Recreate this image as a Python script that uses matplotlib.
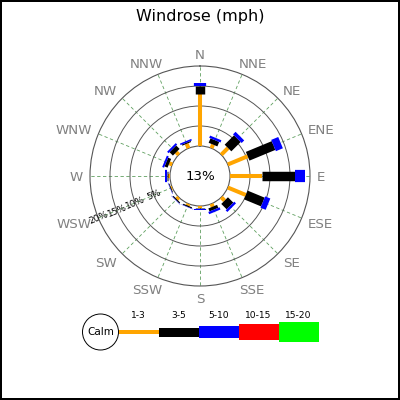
import numpy as np
import matplotlib
matplotlib.use("Agg")
import matplotlib.pyplot as plt
from matplotlib.patches import Circle, Rectangle
from matplotlib.transforms import offset_copy

directions = ['N', 'NNE', 'NE', 'ENE', 'E', 'ESE', 'SE', 'SSE',
              'S', 'SSW', 'SW', 'WSW', 'W', 'WNW', 'NW', 'NNW']
speed_1_3 = [13.0, 1.0, 2.4, 5.4, 7.9, 4.9, 1.2, 0.8, 0.5, 0.5, 0.7, 0.3, 0.5, 0.8, 0.9, 1.2]
speed_3_5 = [2.0, 1.2, 3.3, 7.0, 8.3, 4.6, 1.9, 0.8, 0.2, 0.3, 0.3, 0.2, 0.3, 0.8, 1.2, 0.3]
speed_5_10 = [0.8, 0.6, 0.9, 1.9, 2.5, 1.4, 0.6, 0.6, 0.4, 0.1, 0.1, 0.1, 0.4, 0.5, 0.5, 0.4]
calm_pct = 13
ring_ticks = [5, 10, 15, 20]
legend_labels = ['1-3', '3-5', '5-10', '10-15', '15-20']

colors = ['#FFA500', '#000000', '#0000FF', '#FF0000', '#00FF00']
line_widths = [2.9, 6.8, 8.8]
legend_heights = [4, 9, 12, 16.5, 20]

fig = plt.figure(figsize=(4, 4), dpi=100, facecolor='white',
                 edgecolor='black', linewidth=1.5)
renderer = fig.canvas.get_renderer()

# Title
fig.text(0.5, 1 - 17 / 400, 'Windrose (mph)', ha='center', va='center',
         fontsize=11.5, color='black')

# Polar rose
R = 110  # px radius of outer ring
cx, cy = 200, 176
ax = fig.add_axes([(cx - R) / 400, (400 - cy - R) / 400, 2 * R / 400, 2 * R / 400],
                  projection='polar')
ax.set_theta_zero_location('N')
ax.set_theta_direction(-1)
rmax = 20
rorigin = -7.5
ax.set_ylim(0, rmax)
ax.set_rorigin(rorigin)
ax.set_facecolor('white')

angles = np.deg2rad(np.arange(len(directions)) * 22.5)
ax.set_xticks(angles)
ax.set_xticklabels([])
ax.set_yticks(ring_ticks[:-1])
ax.set_yticklabels([])
ax.xaxis.grid(True, color='#5f9f5f', linestyle=(0, (4, 3)), linewidth=0.6)
ax.yaxis.grid(True, color='#555555', linestyle='-', linewidth=0.7)
ax.tick_params(length=0)
for name, sp in ax.spines.items():
    sp.set_color('#555555')
    sp.set_linewidth(0.8)

series = [speed_1_3, speed_3_5, speed_5_10]
for i, th in enumerate(angles):
    base = 0.0
    for k, (s, col, lw) in enumerate(zip(series, colors, line_widths)):
        top = base + s[i]
        ax.plot([th, th], [base, top], color=col, linewidth=lw,
                solid_capstyle='butt', zorder=3 + k)
        base = top

# Direction labels
px_per_unit = R / (rmax - rorigin)
r_lab = rorigin + 117 / px_per_unit
for th, d in zip(angles, directions):
    s = np.sin(th)
    t = ax.text(th, r_lab, d, ha='center', va='baseline', fontsize=9.6,
                color='#808080', clip_on=False)
    w_px = t.get_window_extent(renderer=renderer).width
    frac = np.sign(s) * min(1.0, abs(s) / 0.707) if abs(s) > 0.01 else 0.0
    dx_px = frac * w_px / 2
    dy_px = -5 * (1 - np.cos(th))
    t.set_transform(offset_copy(ax.transData, fig=fig, x=dx_px * 72 / 100,
                                y=dy_px * 72 / 100, units='points'))

# Percentage ring labels along WSW line
th_lab = np.deg2rad(247.5)
for v in ring_ticks:
    ax.text(th_lab, v, f'{v}%', ha='center', va='center', fontsize=6.5,
            rotation=22.5, rotation_mode='anchor', color='black', zorder=6)

ax.text(0.5, 0.5, f'{calm_pct}%', transform=ax.transAxes, ha='center',
        va='center', fontsize=9.6, color='black')

# Legend
lax = fig.add_axes([82 / 400, 48 / 400, 240 / 400, 40 / 400])
lax.set_xlim(0, 240)
lax.set_ylim(0, 40)
lax.axis('off')
lax.add_patch(Circle((18.5, 20), 18, facecolor='white', edgecolor='black',
                     linewidth=0.7))
lax.text(18.5, 20, 'Calm', ha='center', va='center', fontsize=7.5)
x0 = 36.5
seg = 40
for k, (lab, col, h) in enumerate(zip(legend_labels, colors, legend_heights)):
    lax.add_patch(Rectangle((x0 + k * seg, 20 - h / 2), seg, h, facecolor=col,
                            edgecolor='none'))
    lax.text(x0 + k * seg + seg / 2, 37, lab, ha='center', va='center',
             fontsize=6.6)

fig.savefig('out.png', dpi=100, facecolor='white', edgecolor='black')
